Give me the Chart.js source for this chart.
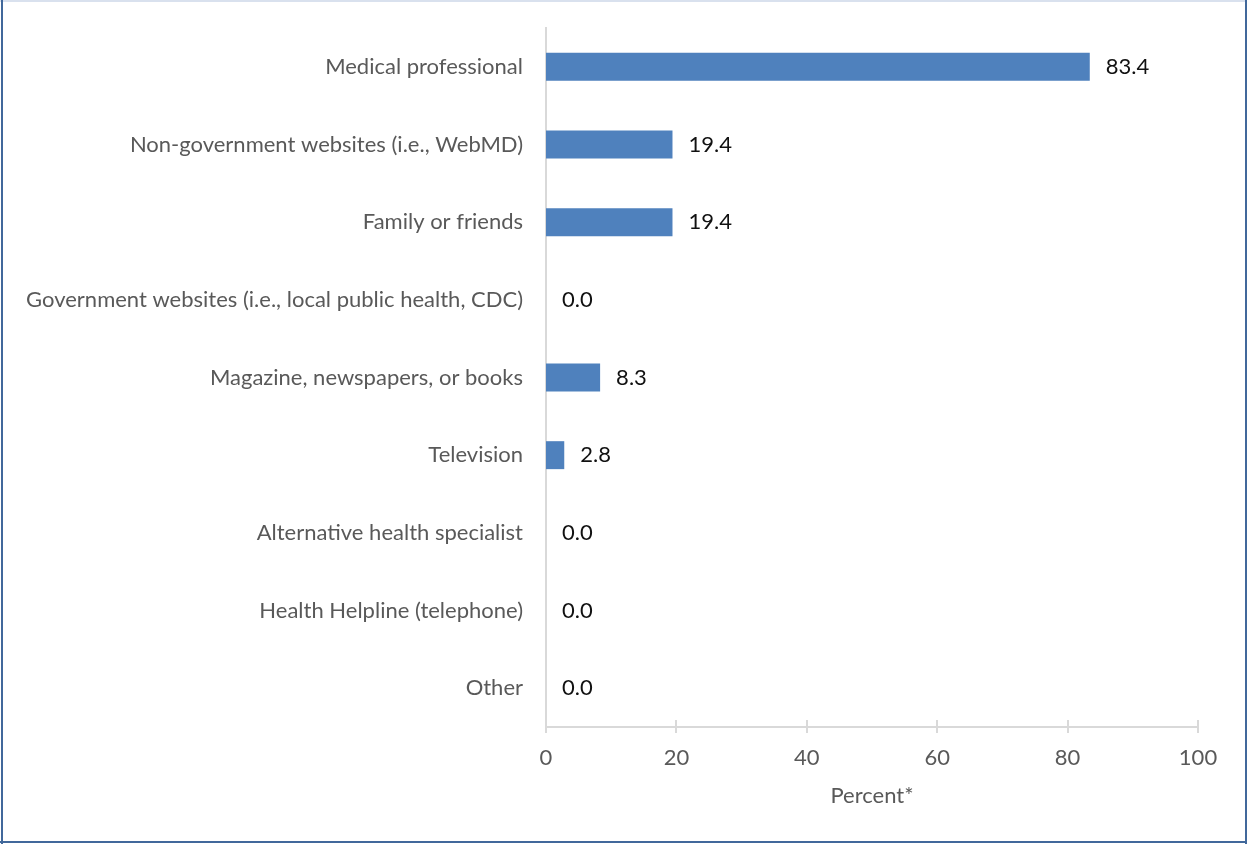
<!DOCTYPE html>
<html>
<head>
<meta charset="utf-8">
<script src="https://cdn.jsdelivr.net/npm/chart.js@4.4.1/dist/chart.umd.min.js"></script>
<style>
  html, body { margin: 0; padding: 0; background: #fff; }
  #wrap { width: 1247px; height: 844px; }
</style>
</head>
<body>
<div id="wrap"><canvas id="c" width="1247" height="844"></canvas></div>
<script>
const categories = [
  "Medical professional",
  "Non-government websites (i.e., WebMD)",
  "Family or friends",
  "Government websites (i.e., local public health, CDC)",
  "Magazine, newspapers, or books",
  "Television",
  "Alternative health specialist",
  "Health Helpline (telephone)",
  "Other"
];
const percentValues = [83.4, 19.4, 19.4, 0.0, 8.3, 2.8, 0.0, 0.0, 0.0];
const xTickValues = [0, 20, 40, 60, 80, 100];
const xAxisTitle = "Percent*";

const FONT = "Lato";
const FSIZE = 22;
const GRAY = "#595959";
const AXIS = "#D9D9D9";

const frame = {
  id: "frame",
  beforeDraw(chart) {
    const ctx = chart.ctx;
    ctx.save();
    ctx.fillStyle = "#fff";
    ctx.fillRect(0, 0, chart.width, chart.height);
    ctx.restore();
  },
  afterDraw(chart) {
    const ctx = chart.ctx;
    const w = chart.width, h = chart.height;
    ctx.save();
    ctx.fillStyle = "#D9E1EE";
    ctx.fillRect(0, 0, w, 2);
    ctx.fillStyle = "#41689B";
    ctx.fillRect(1, 0, 2, h);
    ctx.fillRect(w - 2, 0, 2, h);
    ctx.fillRect(0, h - 3, w, 2);
    ctx.restore();
  }
};

const crossTicks = {
  id: "crossTicks",
  afterDraw(chart) {
    const xs = chart.scales.x;
    const ctx = chart.ctx;
    const y = chart.chartArea.bottom;
    ctx.save();
    ctx.strokeStyle = AXIS;
    ctx.lineWidth = 2;
    xs.ticks.forEach(t => {
      const px = Math.round(xs.getPixelForValue(t.value));
      ctx.beginPath();
      ctx.moveTo(px, y - 7);
      ctx.lineTo(px, y + 6);
      ctx.stroke();
    });
    ctx.restore();
  }
};

const valueLabels = {
  id: "valueLabels",
  afterDatasetsDraw(chart) {
    const ctx = chart.ctx;
    const meta = chart.getDatasetMeta(0);
    ctx.save();
    ctx.font = FSIZE + "px " + FONT;
    ctx.fillStyle = "#111";
    ctx.textAlign = "left";
    ctx.textBaseline = "middle";
    meta.data.forEach((bar, i) => {
      const v = chart.data.datasets[0].data[i];
      ctx.fillText(v.toFixed(1), bar.x + 16, bar.y);
    });
    ctx.restore();
  }
};

new Chart(document.getElementById("c"), {
  type: "bar",
  data: {
    labels: categories,
    datasets: [{
      data: percentValues,
      backgroundColor: "#4F81BD",
      borderWidth: 0,
      categoryPercentage: 1.0,
      barPercentage: 0.36
    }]
  },
  options: {
    indexAxis: "y",
    responsive: false,
    animation: false,
    layout: { padding: { top: 28, right: 49, bottom: 0, left: 0 } },
    plugins: {
      legend: { display: false },
      tooltip: { enabled: false }
    },
    scales: {
      y: {
        grid: { display: false, drawTicks: false },
        border: { display: true, color: AXIS, width: 2 },
        ticks: {
          color: GRAY,
          font: { family: FONT, size: FSIZE },
          padding: 23
        },
        afterFit(scale) {
          scale.width = 546;
          scale.paddingTop = 0;
          scale.paddingBottom = 0;
        }
      },
      x: {
        min: 0,
        max: 100,
        afterBuildTicks(scale) { scale.ticks = xTickValues.map(v => ({ value: v })); },
        grid: { display: false, drawTicks: false },
        border: { display: true, color: AXIS, width: 2 },
        ticks: {
          color: GRAY,
          font: { family: FONT, size: FSIZE },
          padding: 18
        },
        title: {
          display: true,
          text: xAxisTitle,
          color: GRAY,
          font: { family: FONT, size: FSIZE },
          padding: { top: 0, bottom: 35 }
        },
        afterFit(scale) { scale.height = 117; }
      }
    }
  },
  plugins: [frame, crossTicks, valueLabels]
});
</script>
</body>
</html>
